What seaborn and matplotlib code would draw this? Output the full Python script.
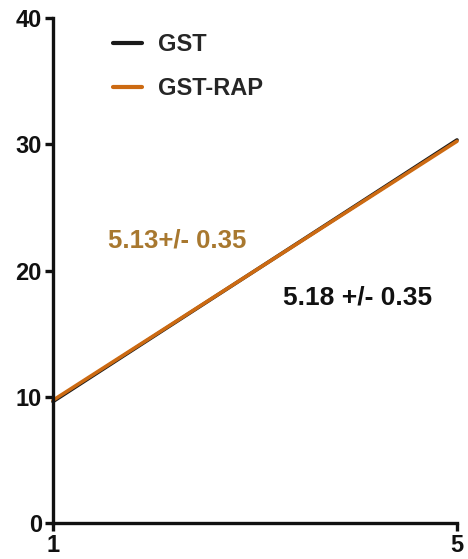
import matplotlib
matplotlib.use("Agg")
import matplotlib.pyplot as plt
import seaborn as sns
import pandas as pd

# Fitted lines for each group
x_vals = [1, 5]
gst = [9.62, 30.34]
gst_rap = [9.72, 30.24]
series_names = ["GST", "GST-RAP"]
slope_labels = ["5.18 +/- 0.35", "5.13+/- 0.35"]
x_ticks = [1, 5]
y_ticks = [0, 10, 20, 30, 40]

df = pd.DataFrame({
    "x": x_vals * 2,
    "y": gst + gst_rap,
    "group": [series_names[0]] * 2 + [series_names[1]] * 2,
})

sns.set_style("ticks")
plt.rcParams["font.family"] = ["Liberation Sans", "DejaVu Sans"]
plt.rcParams["font.weight"] = "bold"

fig = plt.figure(figsize=(4.68, 5.59), dpi=100)
ax = fig.add_axes([0.1132, 0.0644, 0.8633, 0.9034])

palette = {"GST": "#1a1a1a", "GST-RAP": "#CC6A12"}
sns.lineplot(data=df, x="x", y="y", hue="group", palette=palette,
             linewidth=2.6, ax=ax, legend=True)

ax.set_xlim(1, 5)
ax.set_ylim(0, 40)
ax.set_xticks(x_ticks)
ax.set_yticks(y_ticks)
ax.set_xlabel("")
ax.set_ylabel("")
for s in ["top", "right"]:
    ax.spines[s].set_visible(False)
for s in ["left", "bottom"]:
    ax.spines[s].set_linewidth(2.4)
    ax.spines[s].set_color("#111111")
ax.tick_params(axis="both", width=2.4, length=6, labelsize=17, color="#111111",
               labelcolor="#111111", pad=2)
for lbl in ax.get_xticklabels() + ax.get_yticklabels():
    lbl.set_fontweight("bold")

leg = ax.legend(loc="upper left", bbox_to_anchor=(0.097, 1.012), frameon=False,
                fontsize=17, handlelength=1.2, handletextpad=0.7,
                labelspacing=0.88)
for t in leg.get_texts():
    t.set_fontweight("bold")
for h in leg.get_lines():
    h.set_linewidth(3)

ax.text(3.28, 17.9, slope_labels[0], fontsize=19, fontweight="bold",
        color="#111111", va="center", ha="left")
ax.text(1.545, 22.4, slope_labels[1], fontsize=18.5, fontweight="bold",
        color="#A8782F", va="center", ha="left")

for line in ax.lines:
    line.set_clip_on(False)

fig.savefig("out.png", dpi=100)
